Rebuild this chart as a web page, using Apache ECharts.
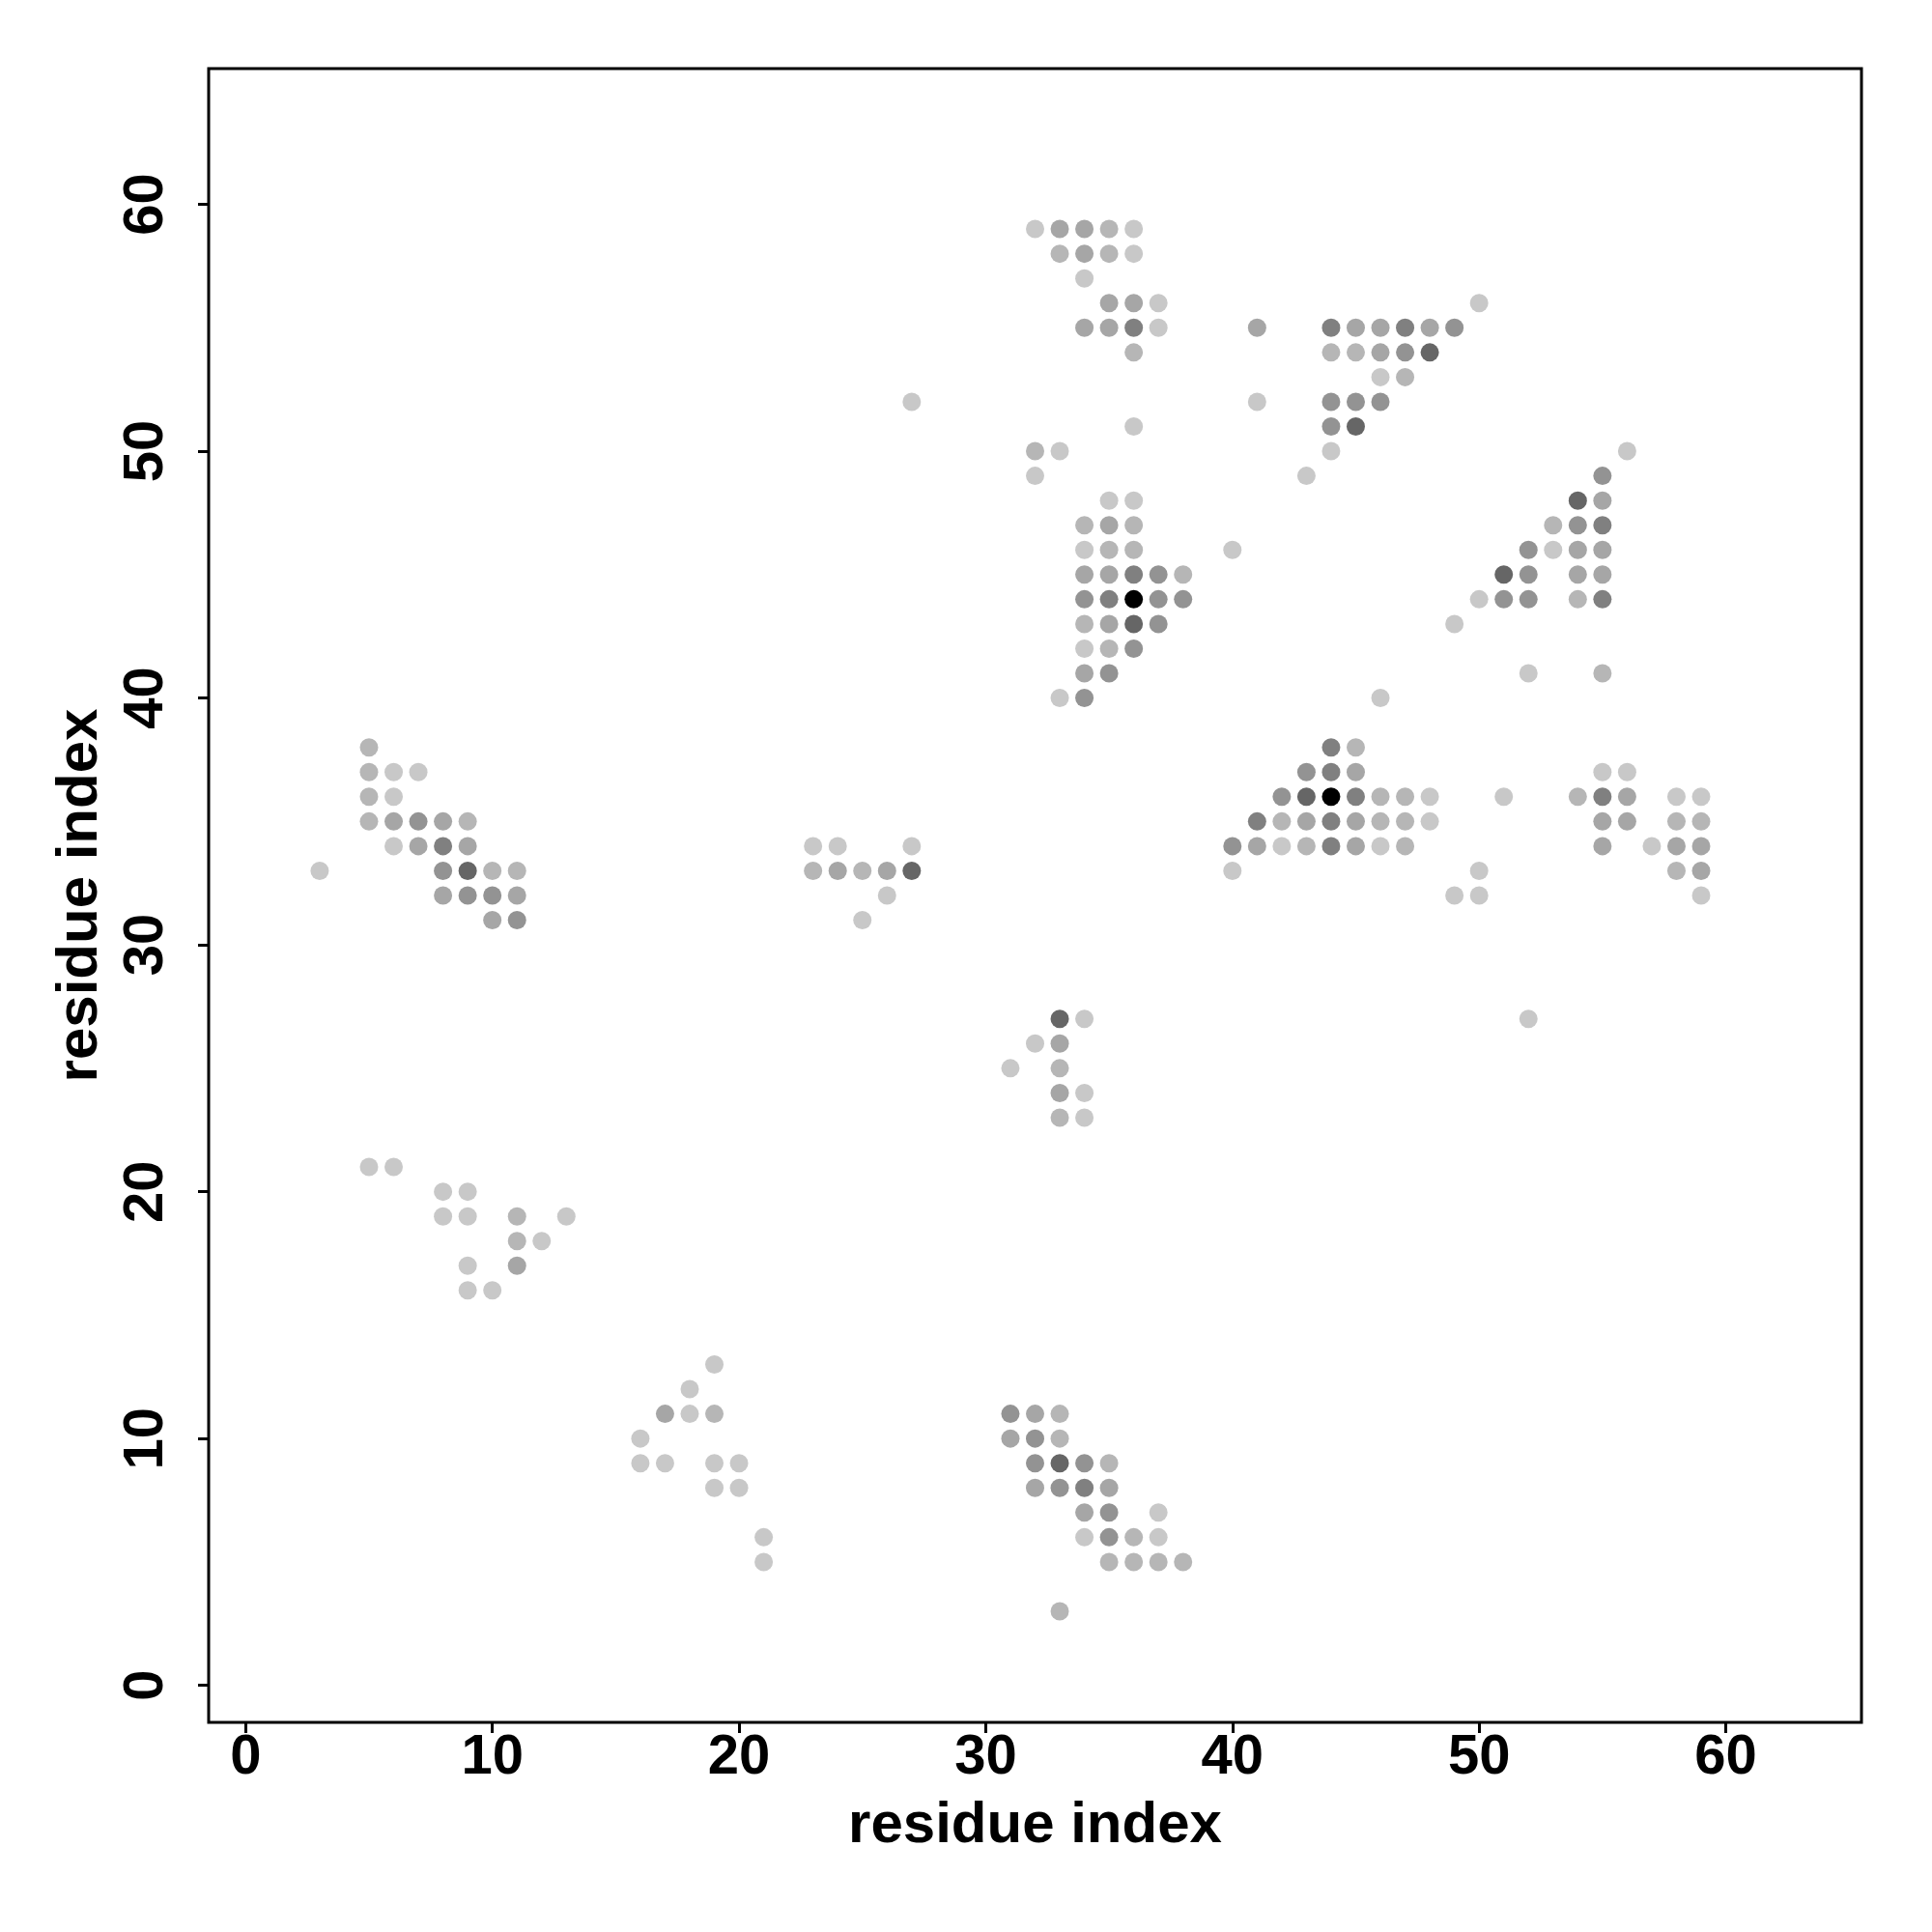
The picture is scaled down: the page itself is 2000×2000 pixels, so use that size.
<!DOCTYPE html>
<html>
<head>
<meta charset="utf-8">
<script src="https://cdn.jsdelivr.net/npm/echarts@6/dist/echarts.min.js"></script>
<style>html,body{margin:0;padding:0;background:#fff}#c{width:2000px;height:2000px}</style>
</head>
<body>
<div id="c"></div>
<script>
// [residue i, residue j, contact level (1 = weak ... 7 = strongest)]
var clusterTop = [
  [32,59,1],[33,59,3],[34,59,3],[35,59,2],[36,59,1],
  [33,58,2],[34,58,3],[35,58,2],[36,58,1],
  [34,57,1],
  [35,56,3],[36,56,3],[37,56,1],
  [34,55,3],[35,55,3],[36,55,5],[37,55,1],
  [36,54,2],[36,51,1],
  [32,50,2],[33,50,1],[32,49,1]
];
var clusterCentre = [
  [35,48,1],[36,48,1],
  [34,47,2],[35,47,3],[36,47,2],
  [34,46,1],[35,46,2],[36,46,2],[40,46,1],
  [34,45,3],[35,45,3],[36,45,5],[37,45,4],[38,45,2],
  [34,44,4],[35,44,5],[36,44,7],[37,44,4],[38,44,4],
  [34,43,2],[35,43,3],[36,43,6],[37,43,4],
  [34,42,1],[35,42,2],[36,42,4],
  [34,41,3],[35,41,4],
  [33,40,1],[34,40,4]
];
var clusterTopRight = [
  [50,56,1],
  [41,55,3],[44,55,5],[45,55,3],[46,55,3],[47,55,5],[48,55,3],[49,55,4],
  [44,54,2],[45,54,2],[46,54,3],[47,54,4],[48,54,6],
  [46,53,1],[47,53,2],
  [41,52,1],[44,52,4],[45,52,4],[46,52,4],
  [44,51,4],[45,51,6],
  [44,50,1],[43,49,1],[27,52,1]
];
var clusterRight = [
  [56,50,1],[55,49,4],[54,48,6],[55,48,3],
  [53,47,2],[54,47,4],[55,47,5],
  [52,46,4],[53,46,1],[54,46,3],[55,46,3],
  [51,45,6],[52,45,4],[54,45,3],[55,45,3],
  [50,44,1],[51,44,4],[52,44,4],[54,44,2],[55,44,5],
  [49,43,1],[52,41,1],[55,41,2],[46,40,1]
];
var clusterMidRight = [
  [44,38,5],[45,38,2],
  [43,37,4],[44,37,5],[45,37,3],
  [42,36,4],[43,36,6],[44,36,7],[45,36,5],[46,36,2],[47,36,2],[48,36,1],
  [41,35,5],[42,35,2],[43,35,3],[44,35,5],[45,35,3],[46,35,2],[47,35,2],[48,35,1],
  [40,34,4],[41,34,3],[42,34,1],[43,34,2],[44,34,5],[45,34,3],[46,34,1],[47,34,2],
  [40,33,1],
  [51,36,1],[50,33,1],[49,32,1],[50,32,1],
  [55,37,1],[56,37,1],
  [54,36,2],[55,36,5],[56,36,3],[58,36,1],[59,36,1],
  [55,35,3],[56,35,3],[58,35,2],[59,35,2],
  [55,34,3],[57,34,1],[58,34,3],[59,34,3],
  [58,33,2],[59,33,3],[59,32,1],
  [52,27,1]
];
var clusterLeft = [
  [5,38,2],
  [5,37,2],[6,37,1],[7,37,1],
  [5,36,2],[6,36,1],
  [5,35,2],[6,35,3],[7,35,4],[8,35,3],[9,35,2],
  [6,34,1],[7,34,3],[8,34,5],[9,34,3],
  [3,33,1],[8,33,4],[9,33,6],[10,33,2],[11,33,2],
  [8,32,3],[9,32,4],[10,32,4],[11,32,3],
  [10,31,3],[11,31,4]
];
var clusterMidSmall = [
  [23,34,1],[24,34,1],[27,34,1],
  [23,33,2],[24,33,3],[25,33,2],[26,33,3],[27,33,6],
  [26,32,1],[25,31,1]
];
var clusterCol33 = [
  [33,27,6],[34,27,1],
  [32,26,1],[33,26,3],
  [31,25,1],[33,25,2],
  [33,24,3],[34,24,1],
  [33,23,2],[34,23,1]
];
var clusterLowLeft = [
  [5,21,1],[6,21,1],
  [8,20,1],[9,20,1],
  [8,19,1],[9,19,1],[11,19,2],[13,19,1],
  [11,18,2],[12,18,1],
  [9,17,1],[11,17,3],
  [9,16,1],[10,16,1]
];
var clusterBottomLeft = [
  [19,13,1],[18,12,1],
  [17,11,3],[18,11,1],[19,11,2],
  [16,10,1],
  [16,9,1],[17,9,1],[19,9,1],[20,9,1],
  [19,8,1],[20,8,1],
  [21,6,1],[21,5,1]
];
var clusterBottom = [
  [31,11,4],[32,11,3],[33,11,2],
  [31,10,3],[32,10,4],[33,10,2],
  [32,9,4],[33,9,6],[34,9,4],[35,9,2],
  [32,8,3],[33,8,4],[34,8,5],[35,8,3],
  [34,7,3],[35,7,4],[37,7,1],
  [34,6,1],[35,6,4],[36,6,2],[37,6,1],
  [35,5,2],[36,5,2],[37,5,2],[38,5,2],
  [33,3,2]
];
var tickValues = [0,10,20,30,40,50,60];
var axisTitleX = 'residue index';
var axisTitleY = 'residue index';

var contacts = [].concat(clusterTop, clusterCentre, clusterTopRight, clusterRight,
  clusterMidRight, clusterLeft, clusterMidSmall, clusterCol33, clusterLowLeft,
  clusterBottomLeft, clusterBottom);

var grayPalette = ['#c8c8c8','#b6b6b6','#a6a6a6','#939393','#808080','#666666','#000000'];
var FONT = 'Liberation Sans';

var chart = echarts.init(document.getElementById('c'), null, {renderer:'canvas'});
var labelStyle = {color:'#000', fontFamily:FONT, fontWeight:'bold', fontSize:58};
var titleStyle = {color:'#000', fontFamily:FONT, fontWeight:'bold', fontSize:60};
chart.setOption({
  animation:false,
  backgroundColor:'#fff',
  grid:{left:216, right:73, top:71, bottom:217, show:true, borderColor:'#000', borderWidth:3, backgroundColor:'transparent'},
  xAxis:{
    type:'value', min:-1.5, max:65.5,
    name:axisTitleX, nameLocation:'middle', nameGap:77,
    nameTextStyle:titleStyle,
    axisLine:{show:false, onZero:false},
    axisTick:{show:true, inside:false, length:11, customValues:tickValues, lineStyle:{color:'#000', width:3}},
    axisLabel:Object.assign({customValues:tickValues, margin:8}, labelStyle),
    splitLine:{show:false}
  },
  yAxis:{
    type:'value', min:-1.5, max:65.5,
    name:axisTitleY, nameLocation:'middle', nameGap:103,
    nameTextStyle:titleStyle,
    axisLine:{show:false, onZero:false},
    axisTick:{show:true, inside:false, length:11, customValues:tickValues, lineStyle:{color:'#000', width:3}},
    axisLabel:Object.assign({customValues:tickValues, margin:35, rotate:90}, labelStyle),
    splitLine:{show:false}
  },
  series:[{
    type:'scatter',
    data:contacts,
    symbol:'circle',
    symbolSize:19,
    itemStyle:{color:function(p){return grayPalette[p.value[2]-1];}, opacity:1}
  }]
});
</script>
</body>
</html>
